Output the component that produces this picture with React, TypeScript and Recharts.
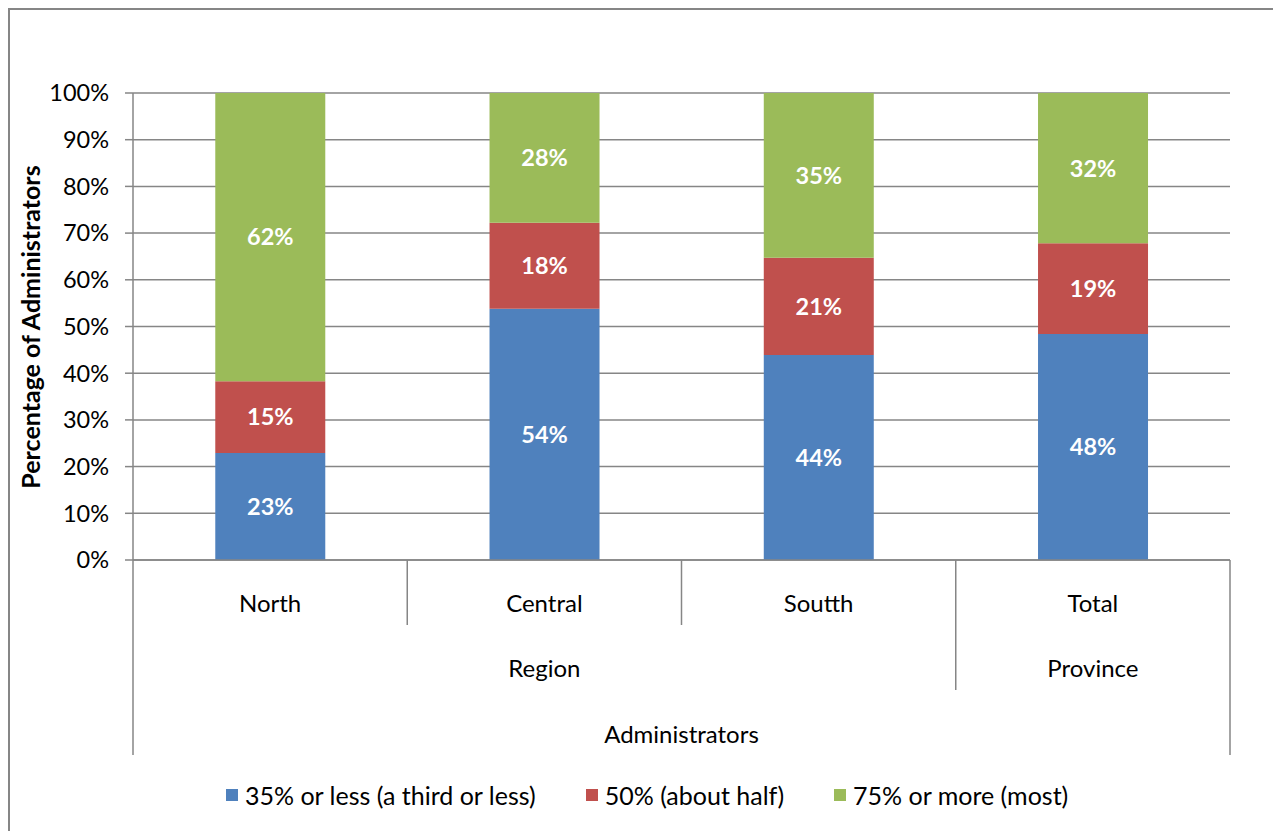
import React from "react";
import {
  BarChart,
  Bar,
  XAxis,
  YAxis,
  CartesianGrid,
  LabelList,
  Legend,
} from "recharts";

const categories = ["North", "Central", "Soutth", "Total"];
const thirdOrLess = [22.9, 53.8, 43.9, 48.4];
const aboutHalf = [15.4, 18.4, 20.8, 19.4];
const mostOrMore = [61.7, 27.8, 35.3, 32.2];
const yTicks = [0, 10, 20, 30, 40, 50, 60, 70, 80, 90, 100];

const seriesNames = [
  "35% or less (a third or less)",
  "50% (about half)",
  "75% or more (most)",
];
const colors = ["#4F81BD", "#C0504D", "#9BBB59"];

const data = categories.map((name, i) => ({
  name,
  low: thirdOrLess[i],
  half: aboutHalf[i],
  most: mostOrMore[i],
}));

const FONT = "Lato, 'Open Sans', sans-serif";
const GRID = "#868686";
const W = 1273;
const H = 831;
const PLOT_LEFT = 133;
const PLOT_RIGHT = 1230;
const BAND = (PLOT_RIGHT - PLOT_LEFT) / categories.length;
const TXT = 24;
const NUM = 23.5;

// how far each category's right-hand separator runs below the axis
const sepDepth = [65, 65, 130, 195];

const renderTick = (props: any) => {
  const { x, y, index } = props;
  const left = x - BAND / 2;
  const right = x + BAND / 2;
  return (
    <g>
      {index === 0 && (
        <line x1={left} y1={y} x2={left} y2={y + 195} stroke={GRID} strokeWidth={1.5} />
      )}
      <line x1={right} y1={y} x2={right} y2={y + sepDepth[index]} stroke={GRID} strokeWidth={1.5} />
      <text x={x} y={y + 52} textAnchor="middle" fontSize={TXT} fill="#000" fontFamily={FONT}>
        {props.payload.value}
      </text>
      {index === 1 && (
        <text x={x} y={y + 117} textAnchor="middle" fontSize={TXT} fill="#000" fontFamily={FONT}>
          Region
        </text>
      )}
      {index === 3 && (
        <text x={x} y={y + 117} textAnchor="middle" fontSize={TXT} fill="#000" fontFamily={FONT}>
          Province
        </text>
      )}
      {index === 1 && (
        <text x={right} y={y + 183} textAnchor="middle" fontSize={TXT} fill="#000" fontFamily={FONT}>
          Administrators
        </text>
      )}
    </g>
  );
};

const renderLegend = () => (
  <div
    style={{
      display: "flex",
      alignItems: "center",
      fontFamily: FONT,
      fontSize: 25,
      lineHeight: "30px",
      color: "#000",
      whiteSpace: "nowrap",
    }}
  >
    {seriesNames.map((n, i) => (
      <div key={n} style={{ display: "flex", alignItems: "center", marginRight: 50 }}>
        <span
          style={{
            display: "inline-block",
            width: 12,
            height: 12,
            background: colors[i],
            marginRight: 7,
          }}
        />
        <span>{n}</span>
      </div>
    ))}
  </div>
);

const pct = (v: any) => `${Math.round(Number(v))}%`;
const valueStyle = { fill: "#fff", fontSize: NUM, fontWeight: 700, fontFamily: FONT };

export default function App() {
  return (
    <div
      style={{
        position: "absolute",
        left: 0,
        top: 0,
        width: W,
        height: H,
        overflow: "hidden",
        background: "#fff",
      }}
    >
      <div
        style={{
          position: "absolute",
          left: 8,
          top: 8,
          width: W + 20,
          height: H + 20,
          borderTop: `2px solid ${GRID}`,
          borderLeft: `2px solid ${GRID}`,
        }}
      />
      <div style={{ position: "absolute", left: 0, top: 0 }}>
        <BarChart
          width={W}
          height={H}
          data={data}
          barCategoryGap="30%"
          margin={{ top: 93, left: 33, right: W - PLOT_RIGHT, bottom: 41 }}
        >
          <CartesianGrid vertical={false} stroke={GRID} strokeWidth={1.5} />
          <YAxis
            width={100}
            domain={[0, 100]}
            ticks={yTicks}
            interval={0}
            tickFormatter={(v) => `${v}%`}
            tick={{ fontSize: NUM, fill: "#000", fontFamily: FONT }}
            tickSize={8}
            tickMargin={16}
            tickLine={{ stroke: GRID, strokeWidth: 1.5 }}
            axisLine={{ stroke: GRID, strokeWidth: 1.5 }}
          />
          <XAxis
            dataKey="name"
            height={200}
            interval={0}
            tickSize={0}
            tickMargin={0}
            tickLine={false}
            axisLine={{ stroke: GRID, strokeWidth: 1.5 }}
            tick={renderTick}
          />
          <Legend
            verticalAlign="bottom"
            content={renderLegend}
            wrapperStyle={{ left: 226, top: 780, width: "auto" }}
          />
          <Bar dataKey="low" stackId="a" fill={colors[0]} isAnimationActive={false}>
            <LabelList dataKey="low" position="center" formatter={pct} style={valueStyle} />
          </Bar>
          <Bar dataKey="half" stackId="a" fill={colors[1]} isAnimationActive={false}>
            <LabelList dataKey="half" position="center" formatter={pct} style={valueStyle} />
          </Bar>
          <Bar dataKey="most" stackId="a" fill={colors[2]} isAnimationActive={false}>
            <LabelList dataKey="most" position="center" formatter={pct} style={valueStyle} />
          </Bar>
        </BarChart>
      </div>
      <svg
        width={60}
        height={H}
        style={{ position: "absolute", left: 0, top: 0, pointerEvents: "none" }}
      >
        <text
          transform="translate(40, 327) rotate(-90)"
          textAnchor="middle"
          fontSize={25}
          fontWeight={700}
          fontFamily={FONT}
          fill="#000"
        >
          Percentage of Administrators
        </text>
      </svg>
    </div>
  );
}
